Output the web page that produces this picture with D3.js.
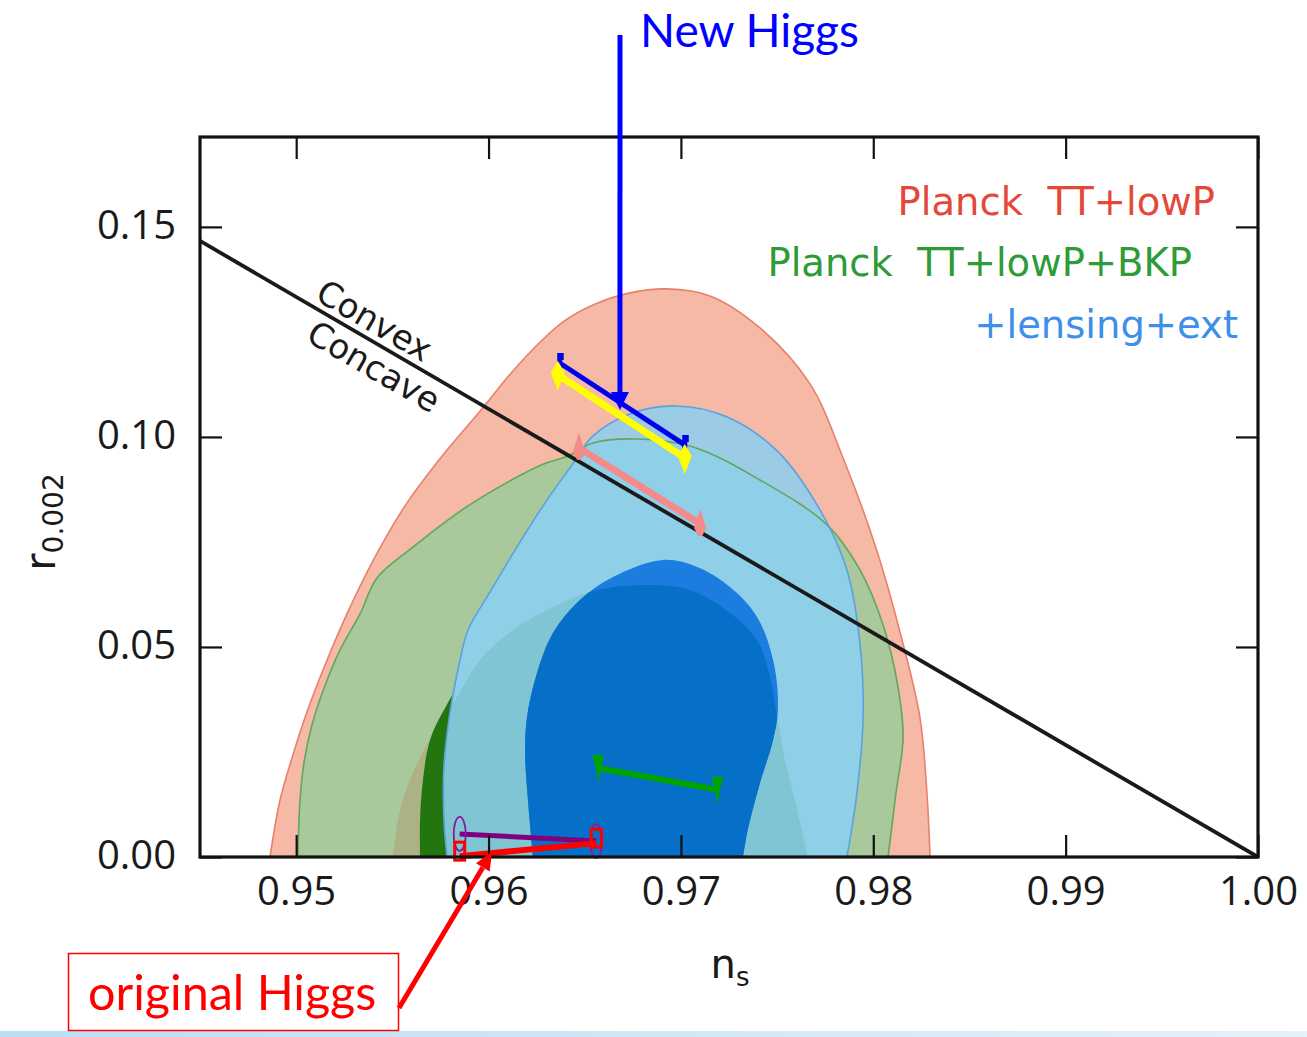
<!DOCTYPE html>
<html>
<head>
<meta charset="utf-8">
<script src="https://cdn.jsdelivr.net/npm/d3@7"></script>
<style>
  html, body { margin: 0; padding: 0; background: #fff; }
  svg { display: block; }
</style>
</head>
<body>
<svg id="chart" width="1307" height="1037"></svg>
<script>
// ---- axis ticks ----
const xTicks = [0.95, 0.96, 0.97, 0.98, 0.99, 1.00];
const xTickLabels = ["0.95", "0.96", "0.97", "0.98", "0.99", "1.00"];
const yTicks = [0.00, 0.05, 0.10, 0.15];
const yTickLabels = ["0.00", "0.05", "0.10", "0.15"];

// ---- legend ----
const legendLabels = ["Planck  TT+lowP", "Planck  TT+lowP+BKP", "+lensing+ext"];

// ---- confidence contours, (n_s, r) ----
const planckTT95 = [
  [0.94864, 0.0000], [0.94916, 0.01357], [0.94983, 0.02429], [0.95056, 0.03452],
  [0.95150, 0.04571], [0.95264, 0.05786], [0.95410, 0.07143], [0.95576, 0.08429],
  [0.95763, 0.09571], [0.95961, 0.10643], [0.96159, 0.11738], [0.96387, 0.12738],
  [0.96543, 0.13143], [0.96735, 0.13429], [0.96928, 0.13524], [0.97151, 0.13357],
  [0.97411, 0.12595], [0.97671, 0.11262], [0.97843, 0.09500], [0.98019, 0.07286],
  [0.98155, 0.05071], [0.98243, 0.03310], [0.98279, 0.01524], [0.98295, 0.0000]
];
const planckTT68 = [
  [0.95503, 0.0000], [0.95529, 0.00881], [0.95581, 0.01714], [0.95659, 0.02500],
  [0.95748, 0.03214], [0.95836, 0.03810], [0.95956, 0.04690], [0.96127, 0.05405],
  [0.96335, 0.05952], [0.96564, 0.06357], [0.96824, 0.06476], [0.97047, 0.06357],
  [0.97255, 0.05810], [0.97396, 0.05167], [0.97463, 0.04286], [0.97500, 0.03333],
  [0.97541, 0.02310], [0.97598, 0.01238], [0.97661, 0.0000]
];
const planckBKP95 = [
  [0.95009, 0.0000], [0.95020, 0.01357], [0.95041, 0.02262], [0.95082, 0.03143],
  [0.95145, 0.04024], [0.95228, 0.04929], [0.95332, 0.05786], [0.95420, 0.06643],
  [0.95602, 0.07357], [0.95893, 0.08357], [0.96273, 0.09333], [0.96413, 0.09548],
  [0.96543, 0.09857], [0.96772, 0.09952], [0.97063, 0.09762], [0.97411, 0.08976],
  [0.97760, 0.07905], [0.97931, 0.06833], [0.98051, 0.05524], [0.98123, 0.04190],
  [0.98155, 0.02857], [0.98118, 0.01524], [0.98077, 0.0000]
];
const planckBKP68 = [
  [0.95644, 0.0000], [0.95644, 0.00881], [0.95659, 0.01833], [0.95696, 0.02786],
  [0.95774, 0.03548], [0.95956, 0.04810], [0.96268, 0.05881], [0.96683, 0.06595],
  [0.97099, 0.06595], [0.97463, 0.05881], [0.97671, 0.04214], [0.97749, 0.02310],
  [0.97775, 0.0000]
];
const lensing95 = [
  [0.95784, 0.0000], [0.95768, 0.00929], [0.95768, 0.02143], [0.95794, 0.03262],
  [0.95820, 0.03976], [0.95852, 0.04690], [0.95893, 0.05405], [0.96008, 0.06310],
  [0.96164, 0.07500], [0.96304, 0.08500], [0.96434, 0.09333], [0.96543, 0.10024],
  [0.96735, 0.10548], [0.96980, 0.10738], [0.97240, 0.10476], [0.97500, 0.09667],
  [0.97723, 0.08262], [0.97863, 0.06833], [0.97931, 0.05071], [0.97947, 0.03310],
  [0.97915, 0.01524], [0.97863, 0.0000]
];
const lensing68 = [
  [0.96231, 0.0000], [0.96205, 0.01357], [0.96190, 0.02476], [0.96200, 0.03333],
  [0.96252, 0.04381], [0.96335, 0.05333], [0.96475, 0.06119], [0.96647, 0.06667],
  [0.96907, 0.07071], [0.97084, 0.06905], [0.97255, 0.06429], [0.97396, 0.05714],
  [0.97479, 0.04690], [0.97505, 0.03571], [0.97479, 0.02786], [0.97411, 0.01762],
  [0.97344, 0.00571], [0.97323, 0.0000]
];

// ---- convex / concave boundary: r = 8/3 (1 - n_s) ----
const convexBoundary = [[0.945, 0.14667], [1.000, 0.0]];

// ---- model predictions, (n_s, r) at both ends ----
const newHiggsBlue   = [[0.9637, 0.1176], [0.9702, 0.0981]];
const newHiggsYellow = [[0.9636, 0.1148], [0.9702, 0.0950]];
const modelPink      = [[0.9647, 0.0974], [0.9710, 0.0793]];
const modelGreen     = [[0.9657, 0.0212], [0.9719, 0.0160]];
const origHiggsPurple = [[0.9585, 0.0055], [0.9656, 0.0038]];
const origHiggsRed    = [[0.9585, 0.0002], [0.9656, 0.0033]];

// points the callouts aim at
const newHiggsPointer  = [0.96683, 0.1064];
const origHiggsPointer = [0.96018, 0.0012];

// ================= drawing =================
const W = 1307, H = 1037;
const P = { left: 200, top: 137, right: 1258, bottom: 857 };

const x = d3.scaleLinear().domain([0.945, 1.0]).range([P.left, P.right]);
const y = d3.scaleLinear().domain([0, 0.1714]).range([P.bottom, P.top]);

const svg = d3.select("#chart");
const defs = svg.append("defs");

const contourLine = d3.line()
  .x(d => x(d[0])).y(d => y(d[1]))
  .curve(d3.curveCatmullRom.alpha(0.5));
const closed = pts => contourLine(pts) + "Z";

defs.append("clipPath").attr("id", "plotArea")
  .append("rect")
  .attr("x", P.left).attr("y", P.top)
  .attr("width", P.right - P.left).attr("height", P.bottom - P.top);
defs.append("clipPath").attr("id", "inLensing95")
  .append("path").attr("d", closed(lensing95));
defs.append("clipPath").attr("id", "inLensing68")
  .append("path").attr("d", closed(lensing68));
const outsideBKP = defs.append("mask").attr("id", "outsideBKP")
  .attr("maskUnits", "userSpaceOnUse")
  .attr("x", 0).attr("y", 0).attr("width", W).attr("height", H);
outsideBKP.append("path").attr("d", closed(lensing95)).attr("fill", "#fff");
outsideBKP.append("path").attr("d", closed(planckBKP95)).attr("fill", "#000");

const grad = defs.append("linearGradient").attr("id", "footerBand");
grad.append("stop").attr("offset", "0%").attr("stop-color", "#b9def6");
grad.append("stop").attr("offset", "100%").attr("stop-color", "#e4f2fb");

// background
svg.append("rect").attr("width", W).attr("height", H).attr("fill", "#fff");
svg.append("rect").attr("x", 0).attr("y", 1031).attr("width", W).attr("height", 6)
  .attr("fill", "url(#footerBand)");

const plot = svg.append("g").attr("clip-path", "url(#plotArea)");

// Planck TT+lowP 95%
plot.append("path").attr("d", closed(planckTT95))
  .attr("fill", "#f5b9a6").attr("stroke", "#e8806c").attr("stroke-width", 1.6);
// Planck TT+lowP+BKP 95%
plot.append("path").attr("d", closed(planckBKP95)).attr("fill", "#a9c89b");
// TT+lowP 68% seen through BKP 95%
plot.append("path").attr("d", closed(planckTT68)).attr("fill", "#adb186");
// BKP 68%
plot.append("path").attr("d", closed(planckBKP68)).attr("fill", "#237510");
// +lensing+ext 95%
plot.append("path").attr("d", closed(lensing95)).attr("fill", "#8fd0e8");
plot.append("path").attr("d", closed(lensing95)).attr("fill", "#9ccbe6")
  .attr("mask", "url(#outsideBKP)");
plot.append("path").attr("d", closed(planckTT68)).attr("fill", "#80c5d3")
  .attr("clip-path", "url(#inLensing95)");
// +lensing+ext 68%
plot.append("path").attr("d", closed(lensing68)).attr("fill", "#1b7ddf");
plot.append("path").attr("d", closed(planckTT68)).attr("fill", "#0670c8")
  .attr("clip-path", "url(#inLensing68)");
// contour edges
plot.append("path").attr("d", closed(planckBKP95))
  .attr("fill", "none").attr("stroke", "#5fa85c").attr("stroke-width", 1.6);
plot.append("path").attr("d", closed(lensing95))
  .attr("fill", "none").attr("stroke", "#5aa2df").attr("stroke-width", 1.6);

// convex / concave boundary
plot.append("path")
  .attr("d", d3.line().x(d => x(d[0])).y(d => y(d[1]))(convexBoundary))
  .attr("stroke", "#1a1a1a").attr("stroke-width", 3.8).attr("fill", "none");

// ---- model segments ----
const capShapes = {
  kite:  "M0,-14 L7,-2 L0,16 L-7,-2 Z",
  wedge: "M-6,-13 L6,-13 L2.5,0 L0,15 L-2.5,0 Z",
  spike: "M0,-15 L6,4 L2,12 L-2,12 L-6,4 Z",
  flag:  "M-2.5,-10 L4,-10 L4,-3 L2.5,-3 L2.5,6 L-2.5,6 Z"
};
function segment(pts, color, width, cap) {
  const gSeg = svg.append("g");
  gSeg.append("line")
    .attr("x1", x(pts[0][0])).attr("y1", y(pts[0][1]))
    .attr("x2", x(pts[1][0])).attr("y2", y(pts[1][1]))
    .attr("stroke", color).attr("stroke-width", width);
  pts.forEach(p => {
    gSeg.append("path").attr("d", capShapes[cap])
      .attr("transform", `translate(${x(p[0])},${y(p[1])})`)
      .attr("fill", color);
  });
  return gSeg;
}
segment(newHiggsBlue, "#0000ee", 5, "flag");
segment(newHiggsYellow, "#ffff00", 7, "kite");
segment(modelPink, "#f48a8a", 7, "spike");
segment(modelGreen, "#00a400", 6, "wedge");

// original Higgs: purple with open ellipses, red with open boxes
const gPurple = svg.append("g");
gPurple.append("line")
  .attr("x1", x(origHiggsPurple[0][0])).attr("y1", y(origHiggsPurple[0][1]))
  .attr("x2", x(origHiggsPurple[1][0])).attr("y2", y(origHiggsPurple[1][1]))
  .attr("stroke", "#800080").attr("stroke-width", 5);
origHiggsPurple.forEach(p => {
  gPurple.append("ellipse").attr("cx", x(p[0])).attr("cy", y(p[1]))
    .attr("rx", 6).attr("ry", 17)
    .attr("fill", "none").attr("stroke", "#8a1a9a").attr("stroke-width", 1.8);
});
const gRed = svg.append("g");
gRed.append("line")
  .attr("x1", x(origHiggsRed[0][0])).attr("y1", y(origHiggsRed[0][1]))
  .attr("x2", x(origHiggsRed[1][0])).attr("y2", y(origHiggsRed[1][1]))
  .attr("stroke", "#ff0000").attr("stroke-width", 6);
origHiggsRed.forEach(p => {
  gRed.append("rect").attr("x", x(p[0]) - 5).attr("y", y(p[1]) - 14)
    .attr("width", 10).attr("height", 18)
    .attr("fill", "none").attr("stroke", "#ff0000").attr("stroke-width", 3);
});

// ---- frame and axes ----
function styleAxis(sel, withText) {
  sel.select(".domain").remove();
  sel.selectAll(".tick line").attr("stroke", "#111").attr("stroke-width", 2.2);
  if (withText) {
    sel.selectAll(".tick text")
      .attr("font-family", "'Open Sans', sans-serif")
      .attr("font-size", 40).attr("fill", "#1a1a1a");
  } else {
    sel.selectAll(".tick text").remove();
  }
}
svg.append("g").attr("transform", `translate(0,${P.bottom})`)
  .call(d3.axisBottom(x).tickValues(xTicks).tickFormat((d, i) => xTickLabels[i])
    .tickSizeInner(-22).tickSizeOuter(0).tickPadding(20))
  .call(s => styleAxis(s, true));
svg.append("g").attr("transform", `translate(0,${P.top})`)
  .call(d3.axisTop(x).tickValues(xTicks).tickSizeInner(-22).tickSizeOuter(0))
  .call(s => styleAxis(s, false));
svg.append("g").attr("transform", `translate(${P.left},0)`)
  .call(d3.axisLeft(y).tickValues(yTicks).tickFormat((d, i) => yTickLabels[i])
    .tickSizeInner(-22).tickSizeOuter(0).tickPadding(24))
  .call(s => styleAxis(s, true))
  .call(s => s.selectAll(".tick text").attr("dy", "0.28em"));
svg.append("g").attr("transform", `translate(${P.right},0)`)
  .call(d3.axisRight(y).tickValues(yTicks).tickSizeInner(-22).tickSizeOuter(0))
  .call(s => styleAxis(s, false));

svg.append("rect")
  .attr("x", P.left).attr("y", P.top)
  .attr("width", P.right - P.left).attr("height", P.bottom - P.top)
  .attr("fill", "none").attr("stroke", "#111").attr("stroke-width", 3.2);

// axis titles
const xTitle = svg.append("text")
  .attr("x", 730).attr("y", 978).attr("text-anchor", "middle")
  .attr("font-family", "'DejaVu Sans', sans-serif").attr("fill", "#1a1a1a");
xTitle.append("tspan").attr("font-size", 40).text("n");
xTitle.append("tspan").attr("font-size", 26).attr("dy", 8).text("s");

const yTitle = svg.append("text")
  .attr("transform", "translate(55,522) rotate(-90)")
  .attr("text-anchor", "middle")
  .attr("font-family", "'DejaVu Sans', sans-serif").attr("fill", "#1a1a1a");
yTitle.append("tspan").attr("font-size", 42).text("r");
yTitle.append("tspan").attr("font-size", 28).attr("dy", 8).text("0.002");

// convex / concave labels along the boundary
const rOnBoundary = ns => {
  const [a, b] = convexBoundary;
  return a[1] + (ns - a[0]) * (b[1] - a[1]) / (b[0] - a[0]);
};
const slope = Math.atan2(
  y(convexBoundary[1][1]) - y(convexBoundary[0][1]),
  x(convexBoundary[1][0]) - x(convexBoundary[0][0])) * 180 / Math.PI;
[["Convex", 0.95357, -7], ["Concave", 0.95459, 33]].forEach(([label, ns, off]) => {
  svg.append("text")
    .attr("transform", `translate(${x(ns)},${y(rOnBoundary(ns))}) rotate(${slope})`)
    .attr("y", off).attr("text-anchor", "middle")
    .attr("font-family", "'DejaVu Sans', sans-serif").attr("font-size", 34)
    .attr("fill", "#1a1a1a").text(label);
});

// legend
const legendColors = ["#e5473b", "#2e9b37", "#3d8fe8"];
const legendPos = [[1215, 215], [1192, 276], [1238, 338]];
legendLabels.forEach((t, i) => {
  svg.append("text")
    .attr("x", legendPos[i][0]).attr("y", legendPos[i][1])
    .attr("text-anchor", "end").style("white-space", "pre")
    .attr("font-family", "'DejaVu Sans', sans-serif").attr("font-size", 38.5)
    .attr("fill", legendColors[i]).text(t);
});

// ---- callouts ----
function arrow(x1, y1, x2, y2, color, width, headLen, headW) {
  const a = Math.atan2(y2 - y1, x2 - x1);
  const bx = x2 - headLen * Math.cos(a), by = y2 - headLen * Math.sin(a);
  svg.append("line").attr("x1", x1).attr("y1", y1).attr("x2", bx).attr("y2", by)
    .attr("stroke", color).attr("stroke-width", width);
  const nx = Math.sin(a) * headW / 2, ny = -Math.cos(a) * headW / 2;
  svg.append("path")
    .attr("d", `M${x2},${y2}L${bx + nx},${by + ny}L${bx - nx},${by - ny}Z`)
    .attr("fill", color);
}

svg.append("text").attr("x", 640).attr("y", 47)
  .attr("font-family", "Lato, sans-serif").attr("font-size", 46)
  .attr("fill", "#0000ff").text("New Higgs");
arrow(620, 35, x(newHiggsPointer[0]), y(newHiggsPointer[1]), "#0000ff", 5, 18, 18);

svg.append("rect").attr("x", 68.5).attr("y", 953.5).attr("width", 330).attr("height", 77)
  .attr("fill", "#fff").attr("stroke", "#ff0000").attr("stroke-width", 1.5);
svg.append("text").attr("x", 88).attr("y", 1010)
  .attr("font-family", "Lato, sans-serif").attr("font-size", 48.5)
  .attr("fill", "#ff0000").text("original Higgs");
arrow(399, 1008, x(origHiggsPointer[0]), y(origHiggsPointer[1]), "#ff0000", 5, 18, 16);
</script>
</body>
</html>
